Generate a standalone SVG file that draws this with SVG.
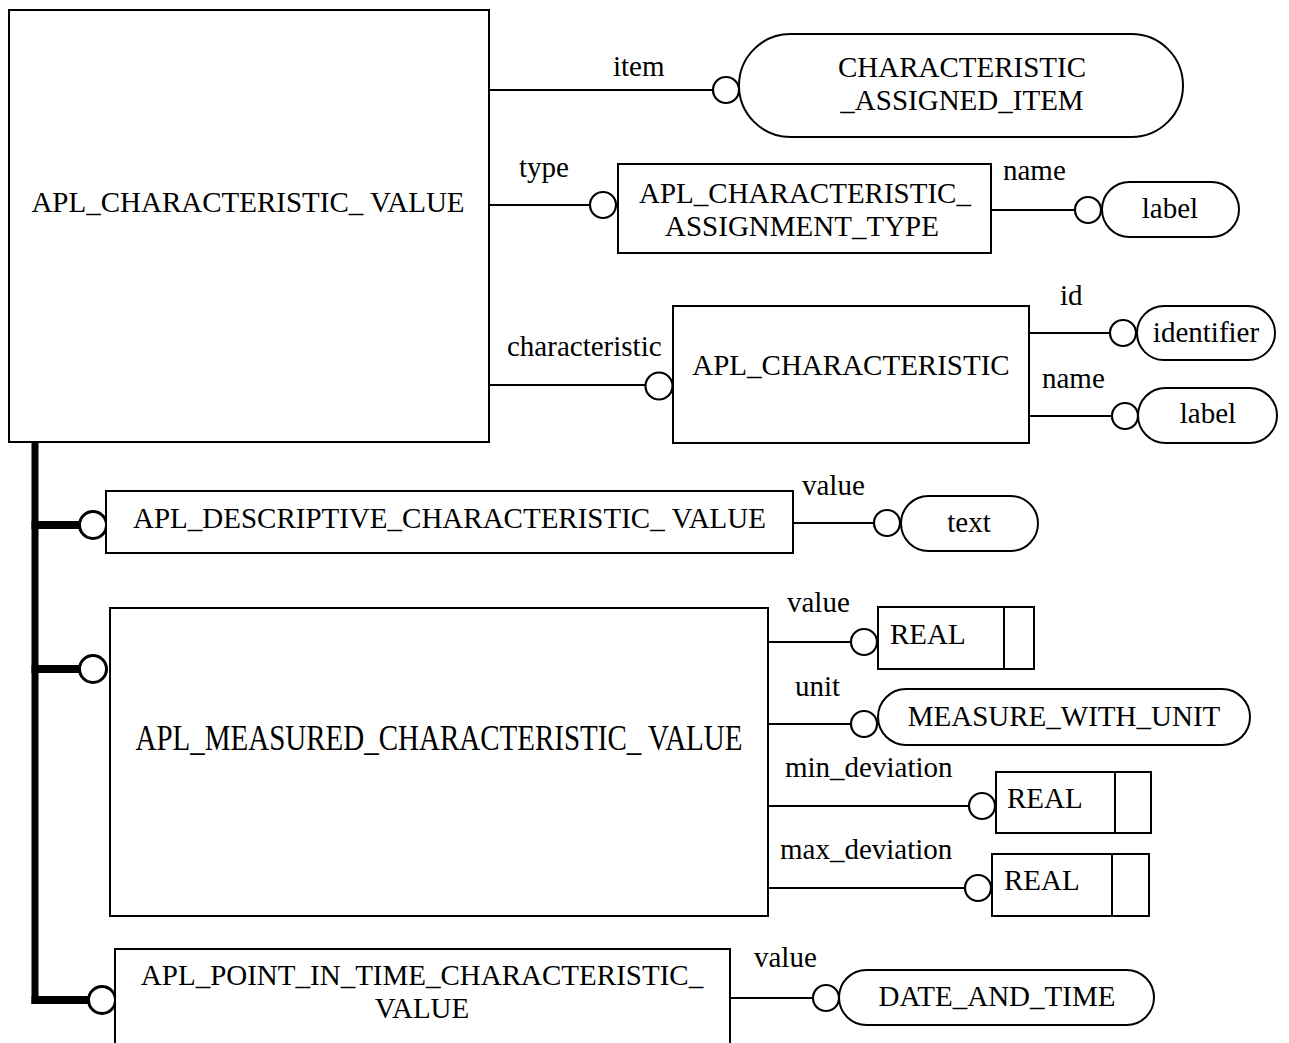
<svg xmlns="http://www.w3.org/2000/svg" width="1289" height="1043" viewBox="0 0 1289 1043">
<style>
  .box { fill: #ffffff; stroke: #000000; stroke-width: 2; }
  .t { font-family: "Liberation Serif", "Times New Roman", serif; font-size: 29px; fill: #000000; }
  .m { text-anchor: middle; }
  .ln { stroke: #000000; stroke-width: 2; fill: none; }
  .c { fill: #ffffff; stroke: #000000; stroke-width: 2.2; }
  .thick { stroke: #000000; stroke-width: 7; fill: none; }
  .cb { fill: #ffffff; stroke: #000000; stroke-width: 3; }
</style>
<rect width="1289" height="1043" fill="#ffffff"/>

<g id="connectors">
  <!-- supertype tree -->
  <line class="thick" x1="35" y1="442" x2="35" y2="1004"/>
  <line class="thick" x1="31.5" y1="525" x2="80" y2="525" style="stroke-width:8"/>
  <line class="thick" x1="31.5" y1="669" x2="80" y2="669" style="stroke-width:8"/>
  <line class="thick" x1="31.5" y1="1000" x2="89" y2="1000" style="stroke-width:8"/>
  <circle class="cb" cx="93" cy="525" r="13.5"/>
  <circle class="cb" cx="93" cy="669" r="13.5"/>
  <circle class="cb" cx="102" cy="1000" r="13.5"/>

  <!-- attributes of APL_CHARACTERISTIC_VALUE -->
  <line class="ln" x1="489" y1="90" x2="713" y2="90"/>
  <circle class="c" cx="726" cy="90" r="13"/>
  <text class="t" x="613" y="76">item</text>

  <line class="ln" x1="489" y1="205" x2="590" y2="205"/>
  <circle class="c" cx="603" cy="205" r="13"/>
  <text class="t" x="519" y="177">type</text>

  <line class="ln" x1="489" y1="385" x2="645" y2="385"/>
  <circle class="c" cx="659" cy="386" r="13.5"/>
  <text class="t" x="507" y="356">characteristic</text>

  <!-- APL_CHARACTERISTIC_ASSIGNMENT_TYPE.name -->
  <line class="ln" x1="991" y1="210" x2="1075" y2="210"/>
  <circle class="c" cx="1088" cy="210" r="13"/>
  <text class="t" x="1003" y="180">name</text>

  <!-- APL_CHARACTERISTIC.id / name -->
  <line class="ln" x1="1027" y1="333" x2="1110" y2="333"/>
  <circle class="c" cx="1123" cy="333" r="13"/>
  <text class="t" x="1060" y="305">id</text>

  <line class="ln" x1="1029" y1="416" x2="1112" y2="416"/>
  <circle class="c" cx="1125" cy="416" r="13"/>
  <text class="t" x="1042" y="388">name</text>

  <!-- descriptive value -->
  <line class="ln" x1="790" y1="523" x2="874" y2="523"/>
  <circle class="c" cx="887" cy="523" r="13"/>
  <text class="t" x="802" y="495">value</text>

  <!-- measured attributes -->
  <line class="ln" x1="767" y1="642" x2="851" y2="642"/>
  <circle class="c" cx="864" cy="642" r="13"/>
  <text class="t" x="787" y="612">value</text>

  <line class="ln" x1="767" y1="724" x2="851" y2="724"/>
  <circle class="c" cx="864" cy="724" r="13"/>
  <text class="t" x="795" y="696">unit</text>

  <line class="ln" x1="766" y1="806" x2="969" y2="806"/>
  <circle class="c" cx="982" cy="806" r="13"/>
  <text class="t" x="785" y="777">min_deviation</text>

  <line class="ln" x1="763" y1="888" x2="965" y2="888"/>
  <circle class="c" cx="978" cy="888" r="13"/>
  <text class="t" x="780" y="859">max_deviation</text>

  <!-- point in time value -->
  <line class="ln" x1="729" y1="998" x2="813" y2="998"/>
  <circle class="c" cx="826" cy="998" r="13"/>
  <text class="t" x="754" y="967">value</text>
</g>

<g id="apl_characteristic_value">
  <rect class="box" x="9" y="10" width="480" height="432"/>
  <text class="t m" x="248" y="212">APL_CHARACTERISTIC_ VALUE</text>
</g>

<g id="characteristic_assigned_item">
  <rect class="box" x="739" y="34" width="444" height="103" rx="51.5" ry="51.5"/>
  <text class="t m" x="962" y="77">CHARACTERISTIC</text>
  <text class="t m" x="962" y="110">_ASSIGNED_ITEM</text>
</g>

<g id="apl_characteristic_assignment_type">
  <rect class="box" x="618" y="164" width="373" height="89"/>
  <text class="t m" x="805" y="203">APL_CHARACTERISTIC_</text>
  <text class="t m" x="802" y="236">ASSIGNMENT_TYPE</text>
</g>

<g id="label_1">
  <rect class="box" x="1102" y="182" width="137" height="55" rx="27.5" ry="27.5"/>
  <text class="t m" x="1170" y="218">label</text>
</g>

<g id="apl_characteristic">
  <rect class="box" x="673" y="306" width="356" height="137"/>
  <text class="t m" x="851" y="375">APL_CHARACTERISTIC</text>
</g>

<g id="identifier">
  <rect class="box" x="1137" y="306" width="138" height="54" rx="27" ry="27"/>
  <text class="t m" x="1206" y="342">identifier</text>
</g>

<g id="label_2">
  <rect class="box" x="1138" y="388" width="139" height="55" rx="27.5" ry="27.5"/>
  <text class="t m" x="1208" y="423">label</text>
</g>

<g id="apl_descriptive_characteristic_value">
  <rect class="box" x="106" y="491" width="687" height="62"/>
  <text class="t m" x="449.5" y="528">APL_DESCRIPTIVE_CHARACTERISTIC_ VALUE</text>
</g>

<g id="text_type">
  <rect class="box" x="901" y="496" width="137" height="55" rx="27.5" ry="27.5"/>
  <text class="t m" x="969" y="532">text</text>
</g>

<g id="apl_measured_characteristic_value">
  <rect class="box" x="110" y="608" width="658" height="308"/>
  <text class="t m" transform="translate(439,750) scale(1,1.2)">APL_MEASURED_CHARACTERISTIC_ VALUE</text>
</g>

<g id="real_1">
  <rect class="box" x="878" y="607" width="156" height="62"/>
  <line class="ln" x1="1004" y1="607" x2="1004" y2="669"/>
  <text class="t" x="890" y="644">REAL</text>
</g>

<g id="measure_with_unit">
  <rect class="box" x="878" y="689" width="372" height="56" rx="28" ry="28"/>
  <text class="t m" x="1064" y="726">MEASURE_WITH_UNIT</text>
</g>

<g id="real_2">
  <rect class="box" x="996" y="772" width="155" height="61"/>
  <line class="ln" x1="1115" y1="772" x2="1115" y2="833"/>
  <text class="t" x="1007" y="808">REAL</text>
</g>

<g id="real_3">
  <rect class="box" x="992" y="854" width="157" height="62"/>
  <line class="ln" x1="1112" y1="854" x2="1112" y2="916"/>
  <text class="t" x="1004" y="890">REAL</text>
</g>

<g id="apl_point_in_time_characteristic_value">
  <rect class="box" x="115" y="949" width="615" height="120"/>
  <text class="t m" x="422" y="985">APL_POINT_IN_TIME_CHARACTERISTIC_</text>
  <text class="t m" x="422" y="1018">VALUE</text>
</g>

<g id="date_and_time">
  <rect class="box" x="839" y="970" width="315" height="55" rx="27.5" ry="27.5"/>
  <text class="t m" x="997" y="1006">DATE_AND_TIME</text>
</g>
</svg>
